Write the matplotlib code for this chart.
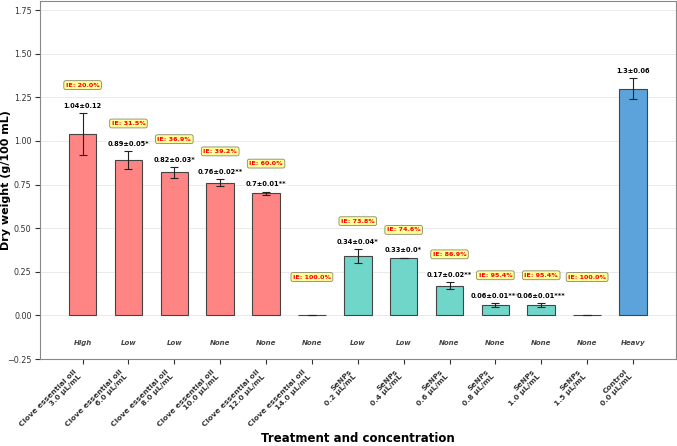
import numpy as np
import matplotlib.pyplot as plt

treatments = ["Clove essential oil"] * 6 + ["SeNPs"] * 6 + ["Control"]
concs = ["3.0", "6.0", "8.0", "10.0", "12.0", "14.0",
         "0.2", "0.4", "0.6", "0.8", "1.0", "1.5", "0.0"]
means = [1.04, 0.89, 0.82, 0.76, 0.70, 0.0,
         0.34, 0.33, 0.17, 0.06, 0.06, 0.0, 1.30]
errs = [0.12, 0.05, 0.03, 0.02, 0.01, 0.0,
        0.04, 0.0, 0.02, 0.01, 0.01, 0.0, 0.06]
stars = ["", "*", "*", "**", "**", "",
         "*", "*", "**", "***", "***", "", ""]
ie = [20.0, 31.5, 36.9, 39.2, 60.0, 100.0,
      73.8, 74.6, 86.9, 95.4, 95.4, 100.0, None]
growth = ["High", "Low", "Low", "None", "None", "None",
          "Low", "Low", "None", "None", "None", "None", "Heavy"]

colors = ["#ff8585"] * 6 + ["#70d6c9"] * 6 + ["#5ba3da"]

fig, ax = plt.subplots(figsize=(6.77, 4.46), dpi=100)
x = np.arange(len(means))
ax.bar(x, means, width=0.6, color=colors, edgecolor="#444444", linewidth=0.8,
       yerr=errs, capsize=3, error_kw=dict(ecolor="#222222", elinewidth=0.8, capthick=0.8))

for i in range(len(means)):
    top = means[i] + errs[i]
    if means[i] > 0:
        ax.text(i, top + 0.025, "{}±{}{}".format(means[i], errs[i], stars[i]),
                ha="center", va="bottom", fontsize=4.8, fontweight="bold",
                bbox=dict(boxstyle="round,pad=0.2", fc="white", ec="none", alpha=0.7))
    if ie[i] is not None:
        ax.text(i, max(top + 0.16, 0.22), "IE: {}%".format(ie[i]),
                ha="center", va="center", fontsize=4.6, fontweight="bold", color="red",
                bbox=dict(boxstyle="round,pad=0.3", fc="#ffff99", ec="#888866", lw=0.6))
    ax.text(i, -0.16, growth[i], ha="center", va="center", fontsize=5,
            style="italic", fontweight="bold", color="#444444")

ax.set_xticks(x)
ax.set_xticklabels(["{}\n{} µL/mL".format(t, c) for t, c in zip(treatments, concs)],
                   rotation=45, ha="right", fontsize=5.4, fontweight="bold")
ax.set_ylim(-0.25, 1.8)
ax.set_yticks(np.arange(-0.25, 1.8, 0.25))
ax.tick_params(axis="y", labelsize=5.8, colors="#333333", pad=2.5)
ax.tick_params(axis="x", colors="#333333")
ax.grid(axis="y", color="#e6e6e6", linewidth=0.6)
ax.set_axisbelow(True)
for s in ax.spines.values():
    s.set_color("#888888")

ax.set_ylabel("Dry weight (g/100 mL)", fontsize=8, fontweight="bold")
ax.set_xlabel("Treatment and concentration", fontsize=8.5, fontweight="bold")
ax.yaxis.set_label_coords(-0.046, 0.5)
ax.xaxis.set_label_coords(0.5, -0.205)

fig.subplots_adjust(left=0.059, right=0.998, top=0.997, bottom=0.195)
plt.savefig("out.png")
